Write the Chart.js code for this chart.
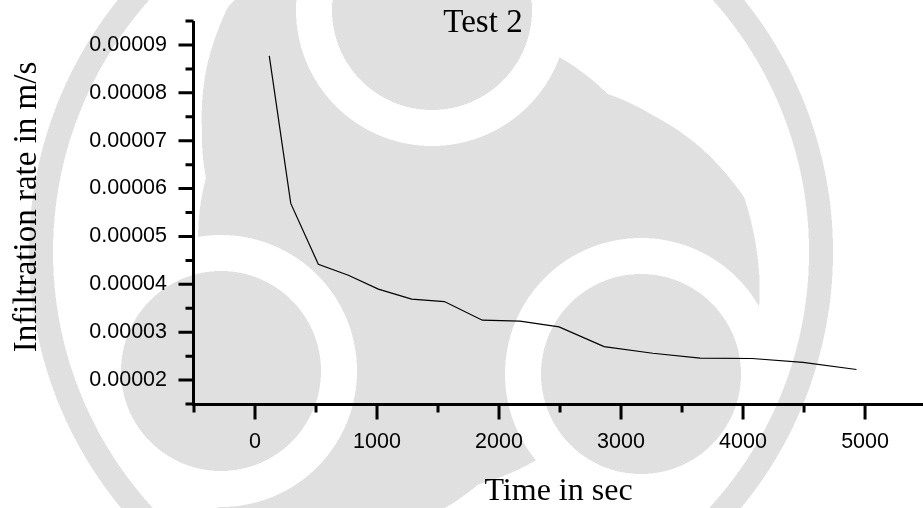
<!DOCTYPE html>
<html>
<head>
<meta charset="utf-8">
<title>Test 2</title>
<script src="https://cdn.jsdelivr.net/npm/chart.js@4.4.1/dist/chart.umd.min.js"></script>
<style>
  html, body { margin: 0; padding: 0; background: #fff; }
  #wrap { width: 923px; height: 508px; }
</style>
</head>
<body>
<div id="wrap"><canvas id="chart" width="923" height="508"></canvas></div>
<script>
// Infiltration test 2: time (s) against infiltration rate (m/s)
const timeSec = [117, 293, 519, 765, 1011, 1284, 1552, 1863, 2172, 2492, 2861, 3260, 3648, 4074, 4492, 4930];
const infiltrationRate = [0.0000877, 0.0000569, 0.0000442, 0.0000419, 0.0000390, 0.0000369, 0.0000364, 0.0000325,
                          0.0000323, 0.0000311, 0.0000270, 0.0000256, 0.0000246, 0.0000245, 0.0000237, 0.0000222];

// axis ticks
const xMajorTicks = [0, 1000, 2000, 3000, 4000, 5000];
const xMinorTicks = [-500, 500, 1500, 2500, 3500, 4500];
const yMajorTicks = [0.00002, 0.00003, 0.00004, 0.00005, 0.00006, 0.00007, 0.00008, 0.00009];
const yMinorTicks = [0.000015, 0.000025, 0.000035, 0.000045, 0.000055, 0.000065, 0.000075, 0.000085, 0.000095];
const yTickLabels = ['0.00002', '0.00003', '0.00004', '0.00005', '0.00006', '0.00007', '0.00008', '0.00009'];

const chartTitle = 'Test 2';
const xTitle = 'Time in sec';
const yTitle = 'Infiltration rate in m/s';

// ---- light grey emblem (three-comma seal in a ring) painted behind the plot ----
const EM = {
  cx: 431, cy: 252,               // seal centre
  ringIn: 378, ringOut: 402,      // outer ring
  heads: [[432, 10], [221, 371], [641, 374]],
  headR: 100, gapR: 136,
  // outer edge of each tail against the angle travelled away from its head
  tail: [[0, 345], [25, 330], [40, 318], [51, 290], [62, 260], [72, 237], [120, 225]],
  grey: 224
};
EM.headAng = EM.heads.map(([x, y]) => Math.atan2(y - EM.cy, x - EM.cx) * 180 / Math.PI);

function tailEdge(d) {
  const t = EM.tail;
  for (let i = 1; i < t.length; i++) {
    if (d <= t[i][0]) {
      const f = (d - t[i - 1][0]) / (t[i][0] - t[i - 1][0]);
      return t[i - 1][1] + f * (t[i][1] - t[i - 1][1]);
    }
  }
  return t[t.length - 1][1];
}

function inSeal(px, py) {
  const dx = px - EM.cx, dy = py - EM.cy;
  const R = Math.hypot(dx, dy);
  if (R >= EM.ringIn && R <= EM.ringOut) return true;
  let nearGap = false;
  for (const [hx, hy] of EM.heads) {
    const d = Math.hypot(px - hx, py - hy);
    if (d <= EM.headR) return true;
    if (d < EM.gapR) nearGap = true;
  }
  if (nearGap || R > 350) return false;
  const phi = Math.atan2(dy, dx) * 180 / Math.PI;
  let best = 360;
  for (const th of EM.headAng) {
    const D = (((th - phi) % 360) + 360) % 360;
    if (D < best) best = D;
  }
  return R < tailEdge(best);
}

const emblem = {
  id: 'emblem',
  beforeDraw(chart) {
    const ctx = chart.ctx;
    const w = chart.width, h = chart.height;
    const img = ctx.createImageData(w, h);
    const data = img.data;
    const offs = [0.25, 0.75];
    for (let y = 0; y < h; y++) {
      for (let x = 0; x < w; x++) {
        let n = 0;
        for (const oy of offs) for (const ox of offs) if (inSeal(x + ox, y + oy)) n++;
        const v = Math.round(255 - (n / 4) * (255 - EM.grey));
        const k = (y * w + x) * 4;
        data[k] = data[k + 1] = data[k + 2] = v;
        data[k + 3] = 255;
      }
    }
    ctx.putImageData(img, 0, 0);
  }
};

// axis lines, major and minor ticks, titles
const frame = {
  id: 'frame',
  afterDatasetsDraw(chart) {
    const { ctx, chartArea: a, scales: { x, y } } = chart;
    ctx.save();
    ctx.strokeStyle = '#000';
    ctx.lineWidth = 3;
    ctx.lineCap = 'butt';
    const ax = a.left - 0.5;
    const ay = a.bottom + 0.5;
    ctx.beginPath();
    ctx.moveTo(ax, a.top); ctx.lineTo(ax, ay + 1.5);
    ctx.moveTo(ax - 1.5, ay); ctx.lineTo(a.right, ay);
    ctx.stroke();
    ctx.beginPath();
    yMajorTicks.forEach(v => { const p = y.getPixelForValue(v); ctx.moveTo(ax - 15, p); ctx.lineTo(ax, p); });
    yMinorTicks.forEach(v => { const p = y.getPixelForValue(v); ctx.moveTo(ax - 8, p); ctx.lineTo(ax, p); });
    xMajorTicks.forEach(v => { const p = x.getPixelForValue(v); ctx.moveTo(p, ay); ctx.lineTo(p, ay + 15); });
    xMinorTicks.forEach(v => { const p = x.getPixelForValue(v); ctx.moveTo(p, ay); ctx.lineTo(p, ay + 8); });
    ctx.stroke();

    ctx.fillStyle = '#000';
    ctx.textAlign = 'center';
    ctx.textBaseline = 'alphabetic';
    ctx.font = '33px "Liberation Serif", "Times New Roman", serif';
    ctx.fillText(chartTitle, 483, 32);
    ctx.font = '32px "Liberation Serif", "Times New Roman", serif';
    ctx.fillText(xTitle, (a.left + a.right) / 2, 500);
    ctx.translate(36, 207);
    ctx.rotate(-Math.PI / 2);
    ctx.font = '33px "Liberation Serif", "Times New Roman", serif';
    ctx.fillText(yTitle, 0, 0);
    ctx.restore();
  }
};

const tickFont = { family: '"Liberation Sans", Arial, sans-serif', size: 21.5 };

new Chart(document.getElementById('chart'), {
  type: 'scatter',
  data: {
    datasets: [{
      data: timeSec.map((t, i) => ({ x: t, y: infiltrationRate[i] })),
      showLine: true,
      borderColor: '#000',
      borderWidth: 1.2,
      pointRadius: 0,
      fill: false,
      tension: 0
    }]
  },
  options: {
    responsive: false,
    animation: false,
    devicePixelRatio: 1,
    layout: { padding: { top: 21, right: 0, bottom: 0, left: 0 } },
    plugins: { legend: { display: false }, tooltip: { enabled: false }, title: { display: false } },
    scales: {
      x: {
        type: 'linear',
        position: 'bottom',
        min: -500,
        max: 5475,
        grid: { display: false, drawTicks: false },
        border: { display: false },
        afterBuildTicks: s => { s.ticks = xMajorTicks.map(v => ({ value: v })); },
        afterFit: s => { s.height = 104; s.paddingLeft = 0; s.paddingRight = 0; },
        ticks: {
          autoSkip: false, maxRotation: 0, padding: 25, color: '#000', font: tickFont,
          callback: v => String(v)
        }
      },
      y: {
        type: 'linear',
        min: 0.000015,
        max: 0.000095,
        grid: { display: false, drawTicks: false },
        border: { display: false },
        afterBuildTicks: s => { s.ticks = yMajorTicks.map(v => ({ value: v })); },
        afterFit: s => { s.width = 194; s.paddingTop = 0; s.paddingBottom = 0; },
        ticks: {
          autoSkip: false, padding: 27, color: '#000', font: tickFont,
          callback: (v, i) => yTickLabels[i]
        }
      }
    }
  },
  plugins: [emblem, frame]
});
</script>
</body>
</html>
